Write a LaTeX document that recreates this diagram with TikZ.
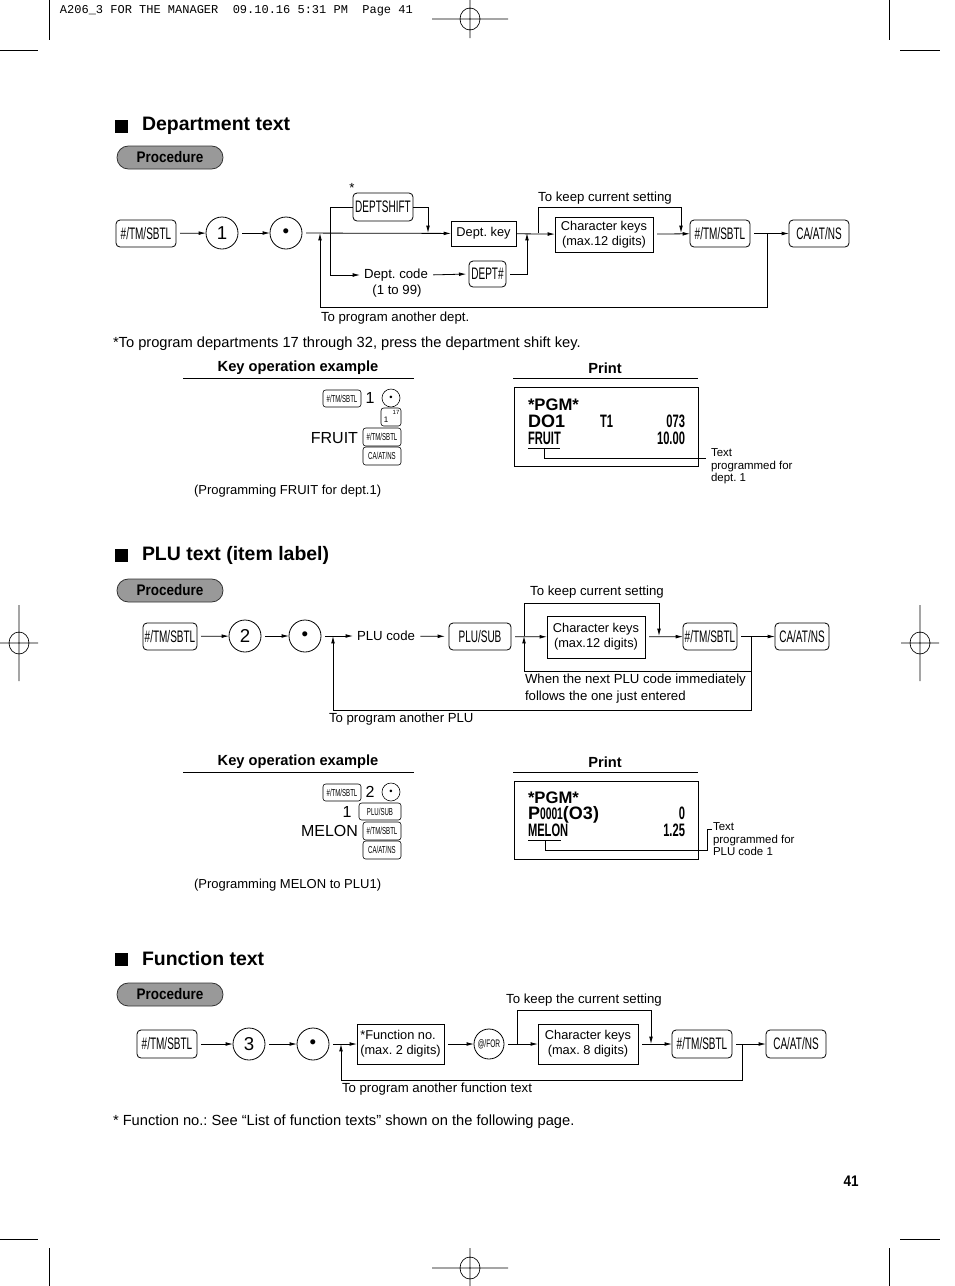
\documentclass[tikz,border=0pt]{standalone}
\usepackage{fontspec}
\setmainfont{Liberation Sans}
\newfontfamily\cnd[FakeStretch=0.6]{Liberation Sans}
\newfontfamily\cndb[FakeStretch=0.88]{Liberation Sans Bold}
\newfontfamily\rcn[FakeStretch=0.62]{Liberation Sans Bold}
\newfontfamily\mono{Liberation Mono}
\usetikzlibrary{arrows.meta,calc}
\newcommand\myfs[2]{\fontsize{#1}{#2}\selectfont}
\frenchspacing
\tikzset{
  every node/.style={inner sep=0pt, outer sep=0pt},
  sz/.style 2 args={minimum width=#1*0.75pt, minimum height=#2*0.75pt},
  ln/.style={line width=0.6pt},
  arr/.style={ln, -{Latex[length=5.5pt,width=2.8pt]}},
  gap/.style={shorten <=3pt},
  key/.style={draw, ln, rounded corners=3pt, font=\cnd\myfs{12.5}{13}},
  skey/.style={draw, line width=0.45pt, rounded corners=2pt, font=\cnd\myfs{7.6}{8}},
  ckey/.style={draw, ln, circle, minimum size=24pt, font=\myfs{14}{16}},
  sckey/.style={draw, line width=0.45pt, circle, minimum size=13.5pt, font=\myfs{7}{8}},
  bx/.style={draw, ln, align=center, font=\myfs{9.6}{11}},
  lbl/.style={font=\myfs{9.9}{11}},
  body/.style={font=\myfs{11}{12}, anchor=west},
  head/.style={font=\bfseries\myfs{14.6}{16}, anchor=west},
  sq/.style={fill=black, sz={13}{13}},
  proc/.style={draw=black!80, fill=black!40, ln, rounded corners=8.5pt, sz={106}{23}, font=\cndb\myfs{11.5}{12}},
  koe/.style={font=\bfseries\myfs{11}{12}},
  kt/.style={font=\myfs{12}{13}},
  note/.style={font=\myfs{9.75}{11}, anchor=west},
  call/.style={font=\myfs{8.6}{9.2}, anchor=north west, align=left},
  rb/.style={font=\bfseries\myfs{12.5}{13}},
  rbb/.style={font=\bfseries\myfs{13.5}{14}},
  rc/.style={font=\rcn\myfs{13.5}{14}},
  cropln/.style={line width=0.5pt}
}
\begin{document}
\begin{tikzpicture}[x=0.75pt, y=-0.75pt]
\useasboundingbox (0,0) rectangle (954,1286);
\fill[white] (0,0) rectangle (954,1286);

% ---------- crop and registration marks ----------
\node[font=\mono\myfs{9}{10}, anchor=west] (hdr) at (60,11) {A206\_3 FOR THE MANAGER\ \ 09.10.16 5:31 PM\ \ Page 41};
\draw[cropln] (49,0) -- (49,40) (0,50) -- (38,50) (889,0) -- (889,40) (900,50) -- (940,50);
\draw[cropln] (0,1239) -- (38,1239) (900,1239) -- (940,1239) (49,1248) -- (49,1286) (889,1248) -- (889,1286);
\draw[cropln] (432,19) -- (508,19) (470,0) -- (470,38) (470,19) ellipse [x radius=10, y radius=11];
\draw[cropln] (432,1268) -- (508,1268) (470,1248) -- (470,1286) (470,1268) ellipse [x radius=10, y radius=11];
\draw[cropln] (0,643) -- (38,643) (19,605) -- (19,681) (19,643) ellipse [x radius=10, y radius=11];
\draw[cropln] (901,643) -- (939,643) (920,605) -- (920,681) (920,643) ellipse [x radius=10, y radius=11];

% ================= Department text =================
\node[sq] (sq1) at (121.5,126.5) {};
\node[head] (h1) at (142,126) {Department text};
\node[proc] (p1) at (170,157.5) {Procedure};

\node[key, sz={60}{27}] (k1a) at (146,233.5) {\#/TM/SBTL};
\node[ckey] (c1) at (222,233) {1};
\node[ckey] (d1) at (286,233) {\textbullet};
\node[key, sz={60}{28}] (ds) at (383,207) {DEPTSHIFT};
\node[lbl] (ast) at (352,188) {*};
\node[bx, sz={65}{25}] (dk) at (483.5,233.5) {Dept. key};
\node[lbl] (dc1) at (396,275) {Dept. code};
\node[lbl] (dc2) at (397,291) {(1 to 99)};
\node[key, sz={37}{26}] (dn) at (487.5,274) {DEPT\#};
\node[bx, sz={98}{35}] (ch1) at (604,234.5) {Character keys\\(max.12 digits)};
\node[key, sz={60}{27}] (k1b) at (720,233.5) {\#/TM/SBTL};
\node[key, sz={60}{27}] (ca1) at (819,233.5) {CA/AT/NS};
\node[lbl] (keep1) at (605,198) {To keep current setting};
\node[lbl, anchor=west] (ano1) at (321,318) {To program another dept.};

\coordinate (b1) at (330,233);
\coordinate (m1) at (428,233);
\coordinate (m2) at (527,233);
\coordinate (b2) at (538,233);
\coordinate (m3) at (681,233);
\coordinate (j1) at (767,233);
\coordinate (f1) at (320,233);

\draw[arr, gap] (k1a) -- (c1);
\draw[arr, gap] (c1) -- (d1);
\draw[arr, gap] (d1) -- (dk);
\draw[ln] (b1) |- (ds.west);
\draw[arr] (ds.east) -| (m1);
\draw[arr, shorten >=3pt] (b1) |- (dc1.west);
\draw[arr, shorten <=4pt, shorten >=2pt] (dc1.east) -- (dn.west);
\draw[arr, gap] (dn.east) -| (m2);
\draw[arr] (dk) -- (ch1);
\draw[arr] (b2) -- (538,207) -- (681,207) -- (m3);
\draw[arr, gap] (ch1) -- (k1b);
\draw[arr, gap] (k1b) -- (ca1);
\draw[arr] (j1) -- (767,307) -- (320,307) -- (f1);

\node[body] (fn1) at (113,344) {*To program departments 17 through 32, press the department shift key.};

% key operation example 1
\node[koe] (koe1) at (298,368) {Key operation example};
\draw[ln] (183,378) -- (414,378);
\node[koe] (pr1) at (605,368) {Print};
\draw[ln] (513,378) -- (698,378);

\node[skey, sz={38}{17}] (s1a) at (342,398.5) {\#/TM/SBTL};
\node[kt] (s1n) at (370,398) {1};
\node[sckey] (s1d) at (391,398) {\textbullet};
\node[draw, line width=0.45pt, rounded corners=2pt, sz={20}{18}] (s1k) at (391,417) {};
\node[font=\myfs{6}{6}] (s1k1) at (386,420) {1};
\node[font=\myfs{4.5}{5}] (s1k2) at (396,412) {17};
\node[kt, anchor=east] (s1t) at (358,438) {FRUIT};
\node[skey, sz={38}{18}] (s1b) at (382,437) {\#/TM/SBTL};
\node[skey, sz={38}{18}] (s1c) at (382,456) {CA/AT/NS};
\node[note] (n1) at (194,491) {(Programming FRUIT for dept.1)};

\node[draw, ln, sz={184}{79}] (r1) at (606,426.5) {};
\node[rb, anchor=base west] (r1a) at (528,410) {*PGM*};
\node[rbb, anchor=base west] (r1b) at (528,427) {DO1};
\node[rc, anchor=base west] (r1c) at (600,427) {T1};
\node[rc, anchor=base east] (r1d) at (685,427) {073};
\node[rc, anchor=base west] (r1e) at (528,444) {FRUIT};
\node[rc, anchor=base east] (r1f) at (685,444) {10.00};
\draw[ln] (528,448) -- (560,448);
\coordinate (u1) at (544,448);
\node[call] (t1) at (711,449) {Text\\programmed for\\dept. 1};
\draw[ln] (u1) -- (544,458) -- (706,458);

% ================= PLU text =================
\node[sq] (sq2) at (121.5,555.5) {};
\node[head] (h2) at (142,555) {PLU text (item label)};
\node[proc] (p2) at (170,590.5) {Procedure};

\node[key, sz={54}{27}] (k2a) at (170,636.5) {\#/TM/SBTL};
\node[ckey] (c2) at (245,636) {2};
\node[ckey] (d2) at (305,636) {\textbullet};
\node[lbl] (pc) at (386,636) {PLU code};
\node[key, sz={62}{27}] (ps) at (480,636.5) {PLU/SUB};
\node[bx, sz={98}{42}] (ch2) at (596,637) {Character keys\\(max.12 digits)};
\node[key, sz={54}{27}] (k2b) at (710,636.5) {\#/TM/SBTL};
\node[key, sz={54}{27}] (ca2) at (802,636.5) {CA/AT/NS};
\node[lbl] (keep2) at (597,592) {To keep current setting};
\node[lbl, anchor=north west, align=left, font=\myfs{9.9}{12.6}] (nx) at (525,674) {When the next PLU code immediately\\follows the one just entered};
\node[lbl, anchor=west] (ano2) at (329,719) {To program another PLU};

\coordinate (f2) at (333,636);
\coordinate (b3) at (524,636);
\coordinate (m4) at (659,636);
\coordinate (j2) at (751,636);

\draw[arr, gap] (k2a) -- (c2);
\draw[arr, gap] (c2) -- (d2);
\draw[arr, gap, shorten >=3pt] (d2) -- (pc);
\draw[arr, shorten <=4pt, shorten >=3pt] (pc) -- (ps);
\draw[arr, gap] (ps) -- (ch2);
\draw[arr] (b3) -- (524,603) -- (659,603) -- (m4);
\draw[arr, gap] (ch2) -- (k2b);
\draw[arr, gap] (k2b) -- (ca2);
\draw[arr] (j2) -- (751,671) -- (524,671) -- (b3);
\draw[arr] (j2) -- (751,710) -- (333,710) -- (f2);

% key operation example 2
\node[koe] (koe2) at (298,762) {Key operation example};
\draw[ln] (183,772) -- (414,772);
\node[koe] (pr2) at (605,762) {Print};
\draw[ln] (513,772) -- (698,772);

\node[skey, sz={38}{17}] (s2a) at (342,792.5) {\#/TM/SBTL};
\node[kt] (s2n) at (370,792) {2};
\node[sckey] (s2d) at (391,792) {\textbullet};
\node[kt] (s2o) at (347,812) {1};
\node[skey, sz={42}{17}] (s2p) at (380,811.5) {PLU/SUB};
\node[kt, anchor=east] (s2t) at (358,831) {MELON};
\node[skey, sz={38}{18}] (s2b) at (382,831) {\#/TM/SBTL};
\node[skey, sz={38}{18}] (s2c) at (382,850) {CA/AT/NS};
\node[note] (n2) at (194,885) {(Programming MELON to PLU1)};

\node[draw, ln, sz={184}{78}] (r2) at (606,820) {};
\node[rb, anchor=base west] (r2a) at (528,803) {*PGM*};
\node[anchor=base west] (r2b) at (528,819) {{\bfseries\myfs{13.5}{14}P}{\rcn\myfs{12.5}{13}0001}{\bfseries\myfs{13.5}{14}(O3)}};
\node[rc, anchor=base east] (r2c) at (685,819) {0};
\node[rc, anchor=base west] (r2d) at (528,836) {MELON};
\node[rc, anchor=base east] (r2e) at (685,836) {1.25};
\draw[ln] (528,840) -- (561,840);
\coordinate (u2) at (545,840);
\node[call] (t2) at (713,823) {Text\\programmed for\\PLU code 1};
\draw[ln] (u2) -- (545,850) -- (707,850) -- (707,829) -- (712,829);

% ================= Function text =================
\node[sq] (sq3) at (121.5,959.5) {};
\node[head] (h3) at (142,959) {Function text};
\node[proc] (p3) at (170,994.5) {Procedure};

\node[key, sz={60}{28}] (k3a) at (167,1044) {\#/TM/SBTL};
\node[ckey] (c3) at (249,1044) {3};
\node[ckey] (d3) at (313,1044) {\textbullet};
\node[bx, align=left, sz={87}{40}] (fno) at (400.5,1044) {*Function no.\\(max. 2 digits)};
\node[draw, ln, circle, minimum size=22.5pt, font=\cnd\myfs{8.2}{9}] (at) at (489,1044) {@/FOR};
\node[bx, sz={100}{40}] (ch3) at (588,1044) {Character keys\\(max. 8 digits)};
\node[key, sz={60}{28}] (k3b) at (702,1044) {\#/TM/SBTL};
\node[key, sz={60}{28}] (ca3) at (796,1044) {CA/AT/NS};
\node[lbl] (keep3) at (584,1000) {To keep the current setting};
\node[lbl, anchor=west] (ano3) at (342,1089) {To program another function text};

\coordinate (f3) at (341,1044);
\coordinate (b4) at (517,1044);
\coordinate (m5) at (651,1044);
\coordinate (j3) at (742,1044);

\draw[arr, gap] (k3a) -- (c3);
\draw[arr, gap] (c3) -- (d3);
\draw[arr, gap] (d3) -- (fno);
\draw[arr, gap] (fno) -- (at);
\draw[arr, gap] (at) -- (ch3);
\draw[arr] (b4) -- (517,1010) -- (651,1010) -- (m5);
\draw[arr, gap] (ch3) -- (k3b);
\draw[arr, gap] (k3b) -- (ca3);
\draw[arr] (j3) -- (742,1080) -- (341,1080) -- (f3);

\node[body] (fn3) at (113,1122) {* Function no.: See “List of function texts” shown on the following page.};

\node[font=\cndb\myfs{11.5}{12}] (pg) at (851,1181) {41};
\end{tikzpicture}
\end{document}
